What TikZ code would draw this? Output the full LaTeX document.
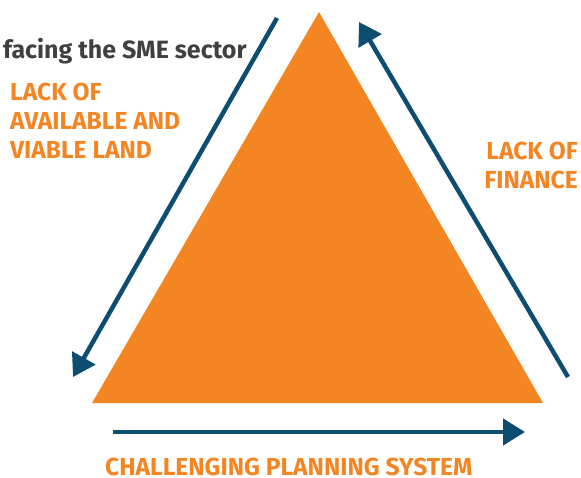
\documentclass[tikz,border=0pt]{standalone}
\usepackage{fontspec}
\setmainfont{Fira Sans}
\usetikzlibrary{arrows.meta}
\definecolor{triorange}{RGB}{243,134,35}
\definecolor{arrowblue}{RGB}{13,78,112}
\definecolor{headgray}{RGB}{64,64,64}
\tikzset{
  flow/.style={draw=arrowblue, line width=4.5pt, -{Triangle[length=22pt,width=26pt]}},
  label/.style={text=triorange, font=\bfseries\fontsize{24.6}{29}\selectfont, inner sep=0pt},
}
\begin{document}
\begin{tikzpicture}[x=1pt,y=-1pt]
\useasboundingbox (0,0) rectangle (581,477);
% triangle
\coordinate (apex) at (319,12);
\coordinate (bl) at (92,403);
\coordinate (br) at (543,403);
\fill[triorange] (apex) -- (bl) -- (br) -- cycle;
% arrows
\coordinate (lstart) at (277,18);
\coordinate (lend) at (73,377);
\coordinate (rstart) at (568,377);
\coordinate (rend) at (359,22);
\coordinate (bstart) at (113,432);
\coordinate (bend) at (525,432);
\draw[flow] (lstart) -- (lend);
\draw[flow] (rstart) -- (rend);
\draw[flow] (bstart) -- (bend);
% texts
\node[anchor=base west, inner sep=0pt, text=headgray, font=\bfseries\fontsize{25}{29}\selectfont] (head) at (3,58) {facing the SME sector};
\node[label, anchor=base west, align=left] (land) at (10,158) {LACK OF\\AVAILABLE AND\\VIABLE LAND};
\node[label, anchor=base east, align=right] (finance) at (578,188) {LACK OF\\FINANCE};
\node[label, anchor=base west, text depth=0pt] (planning) at (105,475) {CHALLENGING PLANNING SYSTEM};
\end{tikzpicture}
\end{document}
